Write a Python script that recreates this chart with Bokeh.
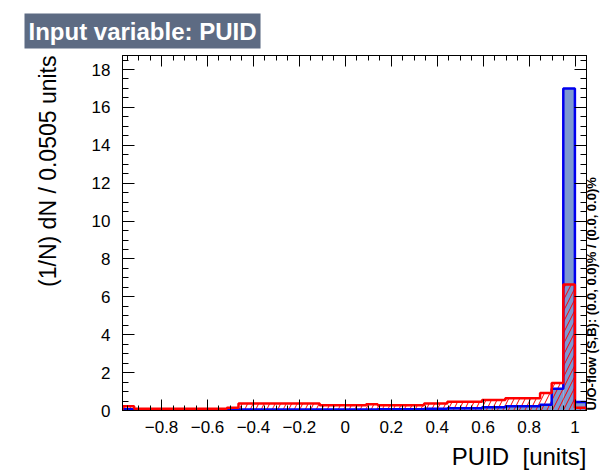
import numpy as np
from bokeh.plotting import figure
from bokeh.models import Range1d, LinearAxis, FixedTicker, CustomJSTickFormatter, Title
from bokeh.embed import file_html
from bokeh.resources import INLINE

# ---- data ----
x_min = -0.97
bin_width = 0.0505
n_bins = 40
signal = [0.06, 0.02, 0.02, 0.02, 0.02, 0.02, 0.02, 0.02, 0.02, 0.03,
          0.05, 0.05, 0.05, 0.05, 0.05, 0.05, 0.05, 0.05, 0.05, 0.05,
          0.05, 0.05, 0.07, 0.07, 0.07, 0.07, 0.09, 0.09, 0.12, 0.12,
          0.12, 0.17, 0.17, 0.22, 0.22, 0.22, 0.30, 1.15, 17.0, 0.45]
background = [0.22, 0.09, 0.09, 0.09, 0.09, 0.09, 0.09, 0.09, 0.09, 0.15,
              0.37, 0.37, 0.37, 0.37, 0.37, 0.37, 0.37, 0.28, 0.28, 0.28,
              0.28, 0.33, 0.28, 0.28, 0.28, 0.28, 0.37, 0.37, 0.46, 0.46,
              0.46, 0.55, 0.55, 0.65, 0.65, 0.65, 0.93, 1.45, 6.65, 0.15]
x_major = [-0.8, -0.6, -0.4, -0.2, 0.0, 0.2, 0.4, 0.6, 0.8, 1.0]
y_major = [0, 2, 4, 6, 8, 10, 12, 14, 16, 18]

title_text = "Input variable: PUID"
x_title = "PUID \u00a0[units]"
y_title = "(1/N) dN / 0.0505 units"
side_text = "U/O-flow (S,B): (0.0, 0.0)% / (0.0, 0.0)%"

x_max = x_min + bin_width * n_bins
y_max = 18.74
edges = np.array([x_min + bin_width * k for k in range(n_bins + 1)])
left = edges[:-1]
right = edges[1:]

def step_outline(vals):
    xs, ys = [edges[0]], [0.0]
    for i, v in enumerate(vals):
        xs += [edges[i], edges[i + 1]]
        ys += [v, v]
    xs.append(edges[-1]); ys.append(0.0)
    return xs, ys

FONT = "Liberation Sans"
W, H = 609, 474
FL, FR, FT, FB = 122, 589, 55, 411  # frame edges in canvas px

p = figure(width=W, height=H,
           x_range=Range1d(x_min, x_max),
           y_range=Range1d(0, y_max),
           output_backend="svg", toolbar_location=None,
           min_border_left=FL, min_border_right=W - FR,
           min_border_top=FT, min_border_bottom=H - FB)
p.xgrid.visible = False
p.ygrid.visible = False
p.outline_line_color = "black"
p.outline_line_width = 1
p.background_fill_color = "white"
p.border_fill_color = "white"

p.quad(left=left, right=right, bottom=0, top=signal,
       fill_color="#7d99d1", line_color=None)
p.quad(left=left, right=right, bottom=0, top=background,
       fill_color=None, line_color=None,
       hatch_pattern="/", hatch_color="#ff0000", hatch_weight=1, hatch_scale=11)

sx, sy = step_outline(signal)
p.line(sx, sy, line_color="#0000ee", line_width=2.5)
bx, by = step_outline(background)
p.line(bx, by, line_color="#ff0000", line_width=2.5)

fmt = CustomJSTickFormatter(code="""
const t = Math.round(tick*100)/100;
if (t === 0) return "0";
let s = Number.isInteger(t) ? t.toFixed(0) : t.toFixed(1);
return s.replace("-", "\u2212");
""")

x_minor = [round(-0.95 + 0.05 * k, 2) for k in range(41)]
y_minor = [0.5 * k for k in range(38)]

def style_common(ax, labels):
    ax.formatter = fmt
    ax.major_tick_out = 0
    ax.minor_tick_out = 0
    ax.axis_line_color = "black"
    ax.major_tick_line_color = "black"
    ax.minor_tick_line_color = "black"
    ax.major_label_text_font = FONT
    ax.major_label_text_color = "black"
    ax.axis_label_text_font = FONT
    ax.axis_label_text_color = "black"
    if labels:
        ax.major_label_text_font_size = "17px"
    else:
        ax.major_label_text_font_size = "0px"
        ax.major_label_text_alpha = 0

def style_x(ax, labels):
    style_common(ax, labels)
    ax.ticker = FixedTicker(ticks=x_major, minor_ticks=x_minor)
    ax.major_tick_in = 11
    ax.minor_tick_in = 5
    ax.major_label_standoff = 10 if labels else 0

def style_y(ax, labels):
    style_common(ax, labels)
    ax.ticker = FixedTicker(ticks=y_major, minor_ticks=y_minor)
    ax.major_tick_in = 12
    ax.minor_tick_in = 6
    ax.major_label_standoff = 12 if labels else 0

style_x(p.xaxis[0], True)
style_y(p.yaxis[0], True)
top_ax = LinearAxis()
right_ax = LinearAxis()
p.add_layout(top_ax, "above")
p.add_layout(right_ax, "right")
style_x(top_ax, False)
style_y(right_ax, False)

right_ax.axis_label = side_text
right_ax.axis_label_orientation = np.pi / 2
right_ax.axis_label_align = "start"
right_ax.axis_label_text_font_size = "13px"
right_ax.axis_label_text_font_style = "bold"
right_ax.axis_label_standoff = 5

p.title = Title(text=title_text, text_font=FONT, text_font_style="bold",
                text_font_size="24px", text_color="white", align="left",
                offset=-98, standoff=14, padding=4,
                background_fill_color="#5d6b83")
p.add_layout(Title(text=x_title, text_font=FONT, text_font_size="24px",
                   text_font_style="normal", text_color="black",
                   align="right", standoff=10), "below")
p.add_layout(Title(text=y_title, text_font=FONT, text_font_size="23px",
                   text_font_style="normal", text_color="black",
                   align="right", standoff=56), "left")

open("out.html", "w").write(file_html(p, INLINE))
